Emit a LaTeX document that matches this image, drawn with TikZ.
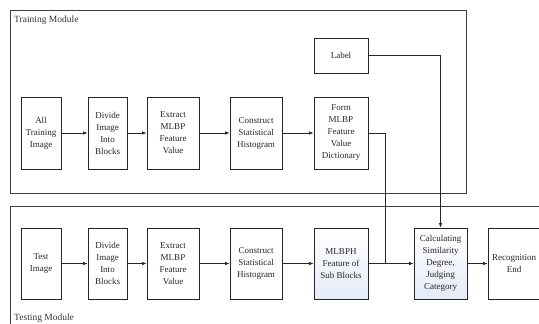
\documentclass[tikz,border=0pt]{standalone}
\usepackage{fontspec}
\setmainfont{Liberation Serif}
\usetikzlibrary{arrows.meta}
\definecolor{shadeblue}{RGB}{228,235,247}
\begin{document}
\begin{tikzpicture}[x=1pt,y=-1pt,
  box/.style={draw=black!85,line width=0.8pt,align=center,inner sep=1pt,font=\fontsize{9}{12}\selectfont,text=black!85},
  shbox/.style={box,top color=white,bottom color=shadeblue},
  conn/.style={draw=black!85,line width=0.8pt},
  arr/.style={conn,-{Latex[length=4.5pt,width=3.5pt]}},
  modbox/.style={draw=black!75,line width=0.9pt},
  modlabel/.style={anchor=base west,font=\fontsize{9.5}{11}\selectfont,text=black!80,inner sep=0pt}]
\useasboundingbox (0,0) rectangle (539,324);
\begin{scope}
\clip (0,0) rectangle (539,324);
% module frames
\draw[modbox] (10,10) rectangle (466,193);
\draw[modbox] (10,206) rectangle (560,340);
\node[modlabel] (trainlbl) at (14,22) {Training Module};
\node[modlabel] (testlbl) at (14,320) {Testing Module};
% training row
\node[box,minimum width=40pt,minimum height=72pt] (t1) at (41,133) {All\\Training\\Image};
\node[box,minimum width=39pt,minimum height=72pt] (t2) at (107.5,133) {Divide\\Image\\Into\\Blocks};
\node[box,minimum width=52pt,minimum height=72pt] (t3) at (173,133) {Extract\\MLBP\\Feature\\Value};
\node[box,minimum width=52pt,minimum height=72pt] (t4) at (256,133) {Construct\\Statistical\\Histogram};
\node[box,minimum width=54pt,minimum height=72pt] (t5) at (341,133) {Form\\MLBP\\Feature\\Value\\Dictionary};
\node[box,minimum width=54pt,minimum height=35pt] (lab) at (341,55.5) {Label};
% testing row
\node[box,minimum width=40pt,minimum height=71pt] (s1) at (41,263.5) {Test\\Image};
\node[box,minimum width=39pt,minimum height=71pt] (s2) at (107.5,263.5) {Divide\\Image\\Into\\Blocks};
\node[box,minimum width=52pt,minimum height=71pt] (s3) at (173,263.5) {Extract\\MLBP\\Feature\\Value};
\node[box,minimum width=52pt,minimum height=71pt] (s4) at (256,263.5) {Construct\\Statistical\\Histogram};
\node[shbox,minimum width=54pt,minimum height=71pt] (s5) at (341,263.5) {MLBPH\\Feature of\\Sub Blocks};
\node[shbox,minimum width=53pt,minimum height=71pt] (s6) at (440.5,263.5) {Calculating\\Similarity\\Degree,\\Judging\\Category};
\node[box,minimum width=52pt,minimum height=71pt,text width=48pt] (s7) at (514,263.5) {Recognition\\End};
% connectors
\draw[arr] (t1) -- (t2);
\draw[arr] (t2) -- (t3);
\draw[arr] (t3) -- (t4);
\draw[arr] (t4) -- (t5);
\draw[arr] (s1) -- (s2);
\draw[arr] (s2) -- (s3);
\draw[arr] (s3) -- (s4);
\draw[arr] (s4) -- (s5);
\draw[arr] (s5) -- (s6);
\draw[arr] (s6) -- (s7);
\coordinate (j) at (385,263.5);
\draw[conn] (t5.east) -| (j);
\draw[arr] (lab.east) -| (s6.north);
\end{scope}
\end{tikzpicture}
\end{document}
